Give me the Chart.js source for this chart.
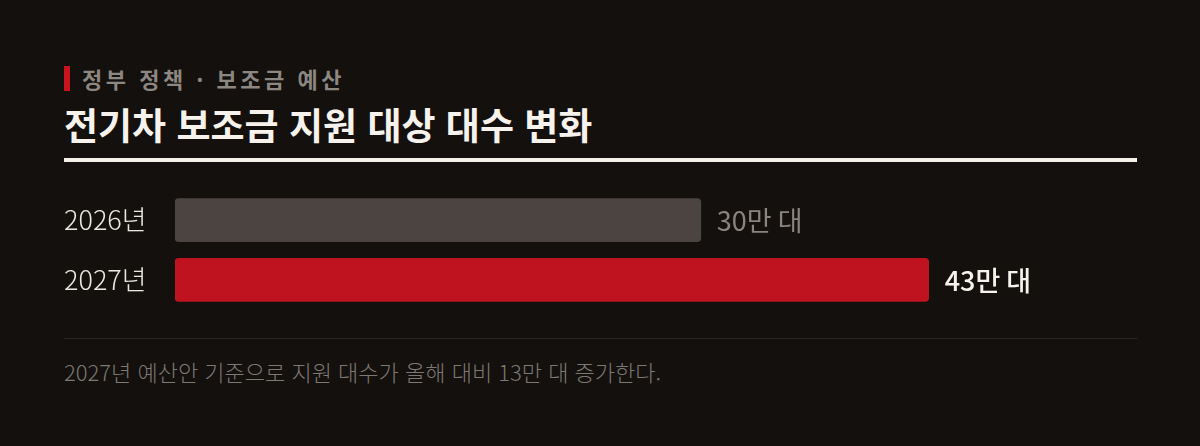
<!DOCTYPE html>
<html lang="ko">
<head>
<meta charset="utf-8">
<title>전기차 보조금 지원 대상 대수 변화</title>
<script src="https://cdn.jsdelivr.net/npm/chart.js@4.4.1/dist/chart.umd.min.js"></script>
<style>
  html, body { margin: 0; padding: 0; }
  body {
    width: 1200px; height: 446px; overflow: hidden;
    background: #13100e;
    font-family: "Noto Sans CJK KR", "Noto Sans", sans-serif;
    position: relative;
  }
  .kicker {
    position: absolute; left: 64px; top: 64px;
    height: 28px; line-height: 28px;
    padding-left: 18px;
    font-size: 22px; font-weight: 700; letter-spacing: 3.5px;
    color: #8d8782;
  }
  .kicker::before {
    content: ""; position: absolute; left: 0; top: 2px;
    width: 6px; height: 25px; background: #c8141f;
  }
  h1 {
    position: absolute; left: 64px; top: 102px; margin: 0;
    font-size: 37px; font-weight: 700; line-height: 44px;
    color: #f7f3ec;
  }
  .rule {
    position: absolute; left: 64px; top: 158px;
    width: 1073px; height: 4px; background: #f5f0e8;
  }
  .chart-box {
    position: absolute; left: 0; top: 174px;
    width: 1200px; height: 152px;
  }
  .divider {
    position: absolute; left: 64px; top: 338px;
    width: 1073px; height: 1px; background: #2b2725;
  }
  .note {
    position: absolute; left: 64px; top: 356px;
    font-size: 22px; font-weight: 300; line-height: 30px;
    color: #7e7873;
  }
</style>
</head>
<body>
<div class="kicker">정부 정책 · 보조금 예산</div>
<h1>전기차 보조금 지원 대상 대수 변화</h1>
<div class="rule"></div>
<div class="chart-box"><canvas id="evChart"></canvas></div>
<div class="divider"></div>
<div class="note">2027년 예산안 기준으로 지원 대수가 올해 대비 13만 대 증가한다.</div>

<script>
// 데이터
const years = ['2026년', '2027년'];
const units = [30, 43];            // 만 대
const valueLabels = ['30만 대', '43만 대'];

// 스타일
const barColors = ['#4b4440', '#c01320'];
const labelColors = ['#8a847f', '#f7f3ec'];
const labelWeights = ['400', '500'];

// 막대 끝에 값 표시
const valueLabelPlugin = {
    id: 'valueLabels',
    afterDatasetsDraw(chart) {
        const ctx = chart.ctx;
        const meta = chart.getDatasetMeta(0);
        ctx.save();
        ctx.textBaseline = 'middle';
        ctx.textAlign = 'left';
        meta.data.forEach((bar, i) => {
            ctx.font = labelWeights[i] + ' 27px "Noto Sans CJK KR", sans-serif';
            ctx.fillStyle = labelColors[i];
            ctx.fillText(valueLabels[i], bar.x + 16, bar.y + 1);
        });
        ctx.restore();
    }
};

const ctx = document.getElementById('evChart').getContext('2d');
const evChart = new Chart(ctx, {
    type: 'bar',
    data: {
        labels: years,
        datasets: [{
            data: units,
            backgroundColor: barColors,
            borderRadius: 4,
            borderSkipped: false,
            barThickness: 43
        }]
    },
    options: {
        indexAxis: 'y',
        responsive: true,
        maintainAspectRatio: false,
        animation: false,
        layout: { padding: { left: 64, right: 61, top: 0, bottom: 0 } },
        plugins: {
            legend: { display: false },
            tooltip: { enabled: false }
        },
        scales: {
            x: {
                display: false,
                min: 0,
                max: 55
            },
            y: {
                grid: { display: false },
                border: { display: false },
                afterFit(scale) { scale.width = 111; },
                ticks: {
                    crossAlign: 'far',
                    padding: 0,
                    color: '#ece8e1',
                    font: { family: '"Noto Sans CJK KR", sans-serif', size: 27, weight: '300' }
                }
            }
        }
    },
    plugins: [valueLabelPlugin]
});
</script>
</body>
</html>
